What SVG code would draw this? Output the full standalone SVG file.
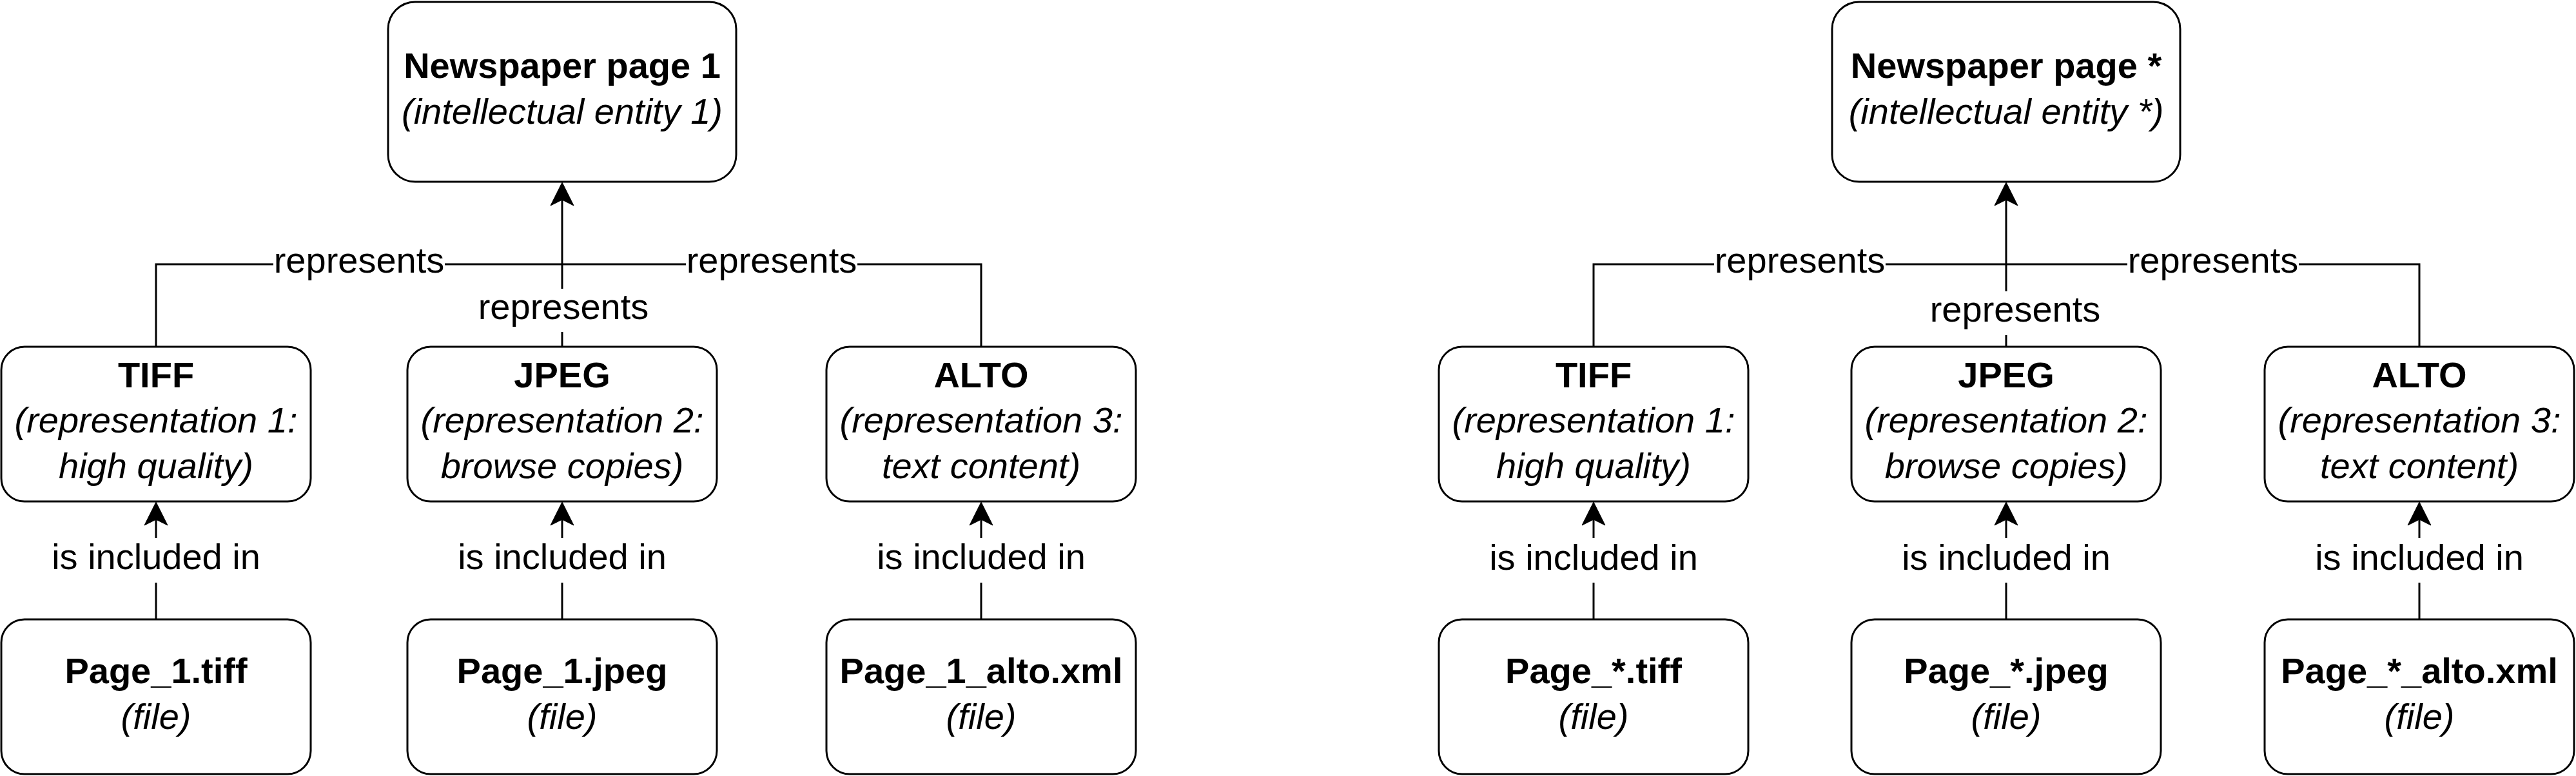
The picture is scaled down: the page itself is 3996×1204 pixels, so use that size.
<svg xmlns="http://www.w3.org/2000/svg" width="3996" height="1204" viewBox="0 0 3996 1204">
<style>
.box{fill:#fff;stroke:#000;stroke-width:3}
.edge{fill:none;stroke:#000;stroke-width:3}
.lbg{fill:#fff;stroke:none}
text{font-family:"Liberation Sans",Arial,Helvetica,sans-serif;font-size:56px;fill:#000;text-anchor:middle}
.b{font-weight:bold}
.i{font-style:italic}
</style>
<defs>
<marker id="arr" markerUnits="userSpaceOnUse" orient="auto" viewBox="-12 -20 42 40" refX="0" refY="0" markerWidth="42" markerHeight="40">
<path d="M27,0 L-9,-18 L0,0 L-9,18 Z" fill="#000" stroke="#000" stroke-width="1"/>
</marker>
</defs>
<rect width="3996" height="1204" fill="#fff"/>

<g id="connectors">
<!-- left half -->
<path class="edge" d="M242,538 V410 H872"/>
<path class="edge" d="M1522,538 V410 H872"/>
<path class="edge" d="M872,538 V310" marker-end="url(#arr)"/>
<rect class="lbg" x="424" y="390" width="266" height="40"/>
<text x="557" y="423">represents</text>
<rect class="lbg" x="1064" y="390" width="266" height="40"/>
<text x="1197" y="423">represents</text>
<rect class="lbg" x="741" y="448" width="266" height="67"/>
<text x="874" y="495">represents</text>
<path class="edge" d="M242,961 V806" marker-end="url(#arr)"/>
<path class="edge" d="M872,961 V806" marker-end="url(#arr)"/>
<path class="edge" d="M1522,961 V806" marker-end="url(#arr)"/>
<rect class="lbg" x="80" y="835" width="324" height="69"/>
<text x="242" y="883">is included in</text>
<rect class="lbg" x="710" y="835" width="324" height="69"/>
<text x="872" y="883">is included in</text>
<rect class="lbg" x="1360" y="835" width="324" height="69"/>
<text x="1522" y="883">is included in</text>
<!-- right half -->
<path class="edge" d="M2472,538 V410 H3112"/>
<path class="edge" d="M3753,538 V410 H3112"/>
<path class="edge" d="M3112,538 V310" marker-end="url(#arr)"/>
<rect class="lbg" x="2659" y="390" width="266" height="40"/>
<text x="2792" y="423">represents</text>
<rect class="lbg" x="3300" y="390" width="266" height="40"/>
<text x="3433" y="423">represents</text>
<rect class="lbg" x="2993" y="452" width="266" height="68"/>
<text x="3126" y="499">represents</text>
<path class="edge" d="M2472,961 V806" marker-end="url(#arr)"/>
<path class="edge" d="M3112,961 V806" marker-end="url(#arr)"/>
<path class="edge" d="M3753,961 V806" marker-end="url(#arr)"/>
<rect class="lbg" x="2310" y="835" width="324" height="69"/>
<text x="2472" y="884">is included in</text>
<rect class="lbg" x="2950" y="835" width="324" height="69"/>
<text x="3112" y="884">is included in</text>
<rect class="lbg" x="3591" y="835" width="324" height="69"/>
<text x="3753" y="884">is included in</text>
</g>

<g id="ie1">
<rect class="box" x="602" y="3" width="540" height="279" rx="42" ry="42"/>
<text x="872" y="120.5" class="b">Newspaper page 1</text>
<text x="872" y="191.5" class="i">(intellectual entity 1)</text>
</g>
<g id="tiff1">
<rect class="box" x="2" y="538" width="480" height="240" rx="36" ry="36"/>
<text x="242" y="600.5" class="b">TIFF</text>
<text x="242" y="671" class="i">(representation 1:</text>
<text x="242" y="742" class="i">high quality)</text>
</g>
<g id="jpeg1">
<rect class="box" x="632" y="538" width="480" height="240" rx="36" ry="36"/>
<text x="872" y="600.5" class="b">JPEG</text>
<text x="872" y="671" class="i">(representation 2:</text>
<text x="872" y="742" class="i">browse copies)</text>
</g>
<g id="alto1">
<rect class="box" x="1282" y="538" width="480" height="240" rx="36" ry="36"/>
<text x="1522" y="600.5" class="b">ALTO</text>
<text x="1522" y="671" class="i">(representation 3:</text>
<text x="1522" y="742" class="i">text content)</text>
</g>
<g id="file-tiff1">
<rect class="box" x="2" y="961" width="480" height="240" rx="36" ry="36"/>
<text x="242" y="1059.5" class="b">Page_1.tiff</text>
<text x="242" y="1130.5" class="i">(file)</text>
</g>
<g id="file-jpeg1">
<rect class="box" x="632" y="961" width="480" height="240" rx="36" ry="36"/>
<text x="872" y="1059.5" class="b">Page_1.jpeg</text>
<text x="872" y="1130.5" class="i">(file)</text>
</g>
<g id="file-alto1">
<rect class="box" x="1282" y="961" width="480" height="240" rx="36" ry="36"/>
<text x="1522" y="1059.5" class="b">Page_1_alto.xml</text>
<text x="1522" y="1130.5" class="i">(file)</text>
</g>

<g id="ie2">
<rect class="box" x="2842" y="3" width="540" height="279" rx="42" ry="42"/>
<text x="3112" y="120.5" class="b">Newspaper page *</text>
<text x="3112" y="191.5" class="i">(intellectual entity *)</text>
</g>
<g id="tiff2">
<rect class="box" x="2232" y="538" width="480" height="240" rx="36" ry="36"/>
<text x="2472" y="600.5" class="b">TIFF</text>
<text x="2472" y="671" class="i">(representation 1:</text>
<text x="2472" y="742" class="i">high quality)</text>
</g>
<g id="jpeg2">
<rect class="box" x="2872" y="538" width="480" height="240" rx="36" ry="36"/>
<text x="3112" y="600.5" class="b">JPEG</text>
<text x="3112" y="671" class="i">(representation 2:</text>
<text x="3112" y="742" class="i">browse copies)</text>
</g>
<g id="alto2">
<rect class="box" x="3513" y="538" width="480" height="240" rx="36" ry="36"/>
<text x="3753" y="600.5" class="b">ALTO</text>
<text x="3753" y="671" class="i">(representation 3:</text>
<text x="3753" y="742" class="i">text content)</text>
</g>
<g id="file-tiff2">
<rect class="box" x="2232" y="961" width="480" height="240" rx="36" ry="36"/>
<text x="2472" y="1059.5" class="b">Page_*.tiff</text>
<text x="2472" y="1130.5" class="i">(file)</text>
</g>
<g id="file-jpeg2">
<rect class="box" x="2872" y="961" width="480" height="240" rx="36" ry="36"/>
<text x="3112" y="1059.5" class="b">Page_*.jpeg</text>
<text x="3112" y="1130.5" class="i">(file)</text>
</g>
<g id="file-alto2">
<rect class="box" x="3513" y="961" width="480" height="240" rx="36" ry="36"/>
<text x="3753" y="1059.5" class="b">Page_*_alto.xml</text>
<text x="3753" y="1130.5" class="i">(file)</text>
</g>
</svg>
